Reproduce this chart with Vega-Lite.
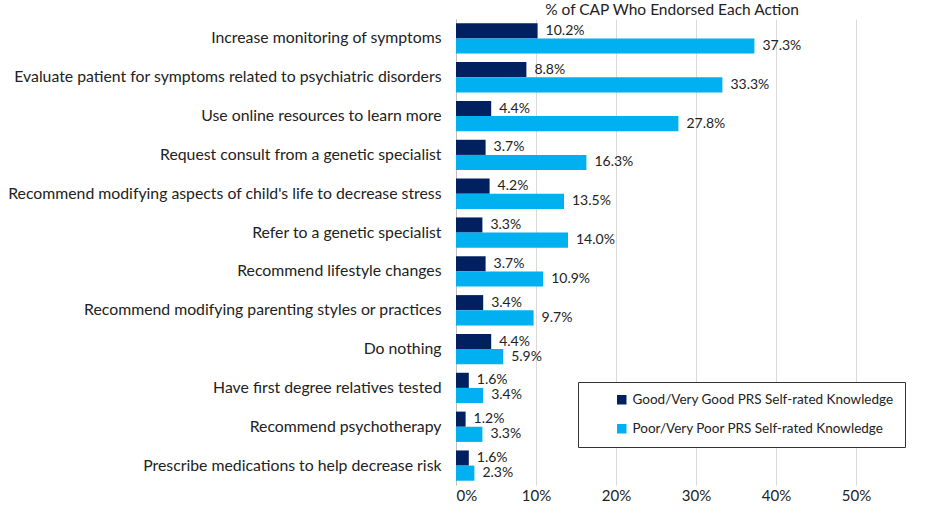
{
  "$schema": "https://vega.github.io/schema/vega-lite/v6.json",
  "width": 464,
  "height": 466,
  "padding": {"left": 7, "top": 2, "right": 5, "bottom": 5},
  "background": "white",
  "title": {
    "text": "% of CAP Who Endorsed Each Action",
    "font": "Lato",
    "fontSize": 15.5,
    "fontWeight": "normal",
    "color": "#222222",
    "anchor": "middle",
    "dx": -16,
    "offset": 1
  },
  "config": {
    "view": {"stroke": null},
    "font": "Lato"
  },
  "data": {
    "values": [
      {"action": "Increase monitoring of symptoms", "group": "Good/Very Good PRS Self-rated Knowledge", "pct": 0.102},
      {"action": "Increase monitoring of symptoms", "group": "Poor/Very Poor PRS Self-rated Knowledge", "pct": 0.373},
      {"action": "Evaluate patient for symptoms related to psychiatric disorders", "group": "Good/Very Good PRS Self-rated Knowledge", "pct": 0.088},
      {"action": "Evaluate patient for symptoms related to psychiatric disorders", "group": "Poor/Very Poor PRS Self-rated Knowledge", "pct": 0.333},
      {"action": "Use online resources to learn more", "group": "Good/Very Good PRS Self-rated Knowledge", "pct": 0.044},
      {"action": "Use online resources to learn more", "group": "Poor/Very Poor PRS Self-rated Knowledge", "pct": 0.278},
      {"action": "Request consult from a genetic specialist", "group": "Good/Very Good PRS Self-rated Knowledge", "pct": 0.037},
      {"action": "Request consult from a genetic specialist", "group": "Poor/Very Poor PRS Self-rated Knowledge", "pct": 0.163},
      {"action": "Recommend modifying aspects of child's life to decrease stress", "group": "Good/Very Good PRS Self-rated Knowledge", "pct": 0.042},
      {"action": "Recommend modifying aspects of child's life to decrease stress", "group": "Poor/Very Poor PRS Self-rated Knowledge", "pct": 0.135},
      {"action": "Refer to a genetic specialist", "group": "Good/Very Good PRS Self-rated Knowledge", "pct": 0.033},
      {"action": "Refer to a genetic specialist", "group": "Poor/Very Poor PRS Self-rated Knowledge", "pct": 0.140},
      {"action": "Recommend lifestyle changes", "group": "Good/Very Good PRS Self-rated Knowledge", "pct": 0.037},
      {"action": "Recommend lifestyle changes", "group": "Poor/Very Poor PRS Self-rated Knowledge", "pct": 0.109},
      {"action": "Recommend modifying parenting styles or practices", "group": "Good/Very Good PRS Self-rated Knowledge", "pct": 0.034},
      {"action": "Recommend modifying parenting styles or practices", "group": "Poor/Very Poor PRS Self-rated Knowledge", "pct": 0.097},
      {"action": "Do nothing", "group": "Good/Very Good PRS Self-rated Knowledge", "pct": 0.044},
      {"action": "Do nothing", "group": "Poor/Very Poor PRS Self-rated Knowledge", "pct": 0.059},
      {"action": "Have first degree relatives tested", "group": "Good/Very Good PRS Self-rated Knowledge", "pct": 0.016},
      {"action": "Have first degree relatives tested", "group": "Poor/Very Poor PRS Self-rated Knowledge", "pct": 0.034},
      {"action": "Recommend psychotherapy", "group": "Good/Very Good PRS Self-rated Knowledge", "pct": 0.012},
      {"action": "Recommend psychotherapy", "group": "Poor/Very Poor PRS Self-rated Knowledge", "pct": 0.033},
      {"action": "Prescribe medications to help decrease risk", "group": "Good/Very Good PRS Self-rated Knowledge", "pct": 0.016},
      {"action": "Prescribe medications to help decrease risk", "group": "Poor/Very Poor PRS Self-rated Knowledge", "pct": 0.023}
    ]
  },
  "encoding": {
    "y": {
      "field": "action",
      "type": "nominal",
      "sort": null,
      "scale": {"paddingInner": 0.22, "paddingOuter": 0.11},
      "axis": {
        "title": null,
        "labelFontSize": 15.8,
        "labelColor": "#222222",
        "labelPadding": 15,
        "ticks": false,
        "domainColor": "#bfbfbf",
        "labelLimit": 600
      }
    },
    "yOffset": {
      "field": "group",
      "type": "nominal",
      "scale": {"paddingInner": 0, "paddingOuter": 0}
    },
    "x": {
      "field": "pct",
      "type": "quantitative",
      "scale": {"domain": [0, 0.58], "nice": false},
      "axis": {
        "title": null,
        "format": ".0%",
        "values": [0, 0.1, 0.2, 0.3, 0.4, 0.5],
        "grid": true,
        "gridColor": "#d9d9d9",
        "domain": false,
        "ticks": false,
        "labelFontSize": 15,
        "labelColor": "#222222",
        "labelPadding": 3
      }
    }
  },
  "layer": [
    {
      "mark": {"type": "bar"},
      "encoding": {
        "color": {
          "field": "group",
          "type": "nominal",
          "scale": {"range": ["#002060", "#00B0F0"]},
          "legend": {
            "title": null,
            "orient": "none",
            "legendX": 122,
            "legendY": 363,
            "symbolType": "square",
            "symbolSize": 90,
            "symbolStrokeWidth": 0,
            "symbolOffset": 26,
            "labelFontSize": 13.5,
            "labelColor": "#222222",
            "labelOffset": 4,
            "rowPadding": 14,
            "padding": 11,
            "strokeColor": "#333333",
            "fillColor": "white",
            "labelLimit": 400
          }
        }
      }
    },
    {
      "mark": {"type": "text", "align": "left", "baseline": "middle", "dx": 8, "fontSize": 14, "color": "#222222"},
      "encoding": {
        "text": {"field": "pct", "type": "quantitative", "format": ".1%"}
      }
    }
  ]
}
